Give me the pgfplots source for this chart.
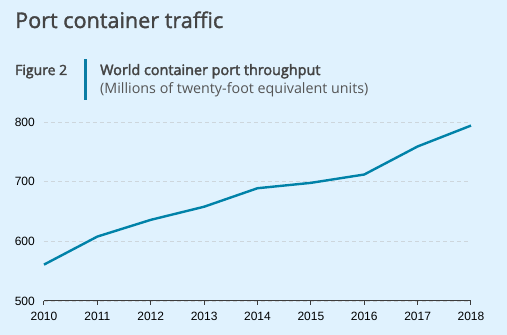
\documentclass[border=0pt]{standalone}
\usepackage{fontspec}
\setmainfont{Liberation Sans}
\newfontfamily\os{Open Sans}
\newfontfamily\ossb[FakeBold=2.5]{Open Sans}
\newfontfamily\ost[FakeBold=1.5]{Open Sans}
\usepackage{pgfplots}
\pgfplotsset{compat=1.18}
\definecolor{bg}{RGB}{224,242,254}
\definecolor{series}{RGB}{0,130,168}
\definecolor{bar}{RGB}{10,125,165}
\definecolor{titlegray}{RGB}{68,68,68}
\definecolor{subgray}{RGB}{85,85,85}
\definecolor{gridc}{RGB}{205,214,220}
\definecolor{axisc}{RGB}{60,60,60}
\begin{document}
\begin{tikzpicture}[x=1pt,y=1pt]
\fill[bg] (0,0) rectangle (507,335);
\node[anchor=base west, inner sep=0, text=titlegray, font=\ost\fontsize{21.6}{26}\selectfont] at (15,307) {Port container traffic};
\node[anchor=base west, inner sep=0, text=titlegray, font=\ossb\fontsize{14}{16}\selectfont] at (15,260) {Figure 2};
\fill[bar] (83.5,235) rectangle (86.5,276);
\node[anchor=base west, inner sep=0, text=titlegray, font=\ossb\fontsize{14.4}{16}\selectfont] at (100,260) {World container port throughput};
\node[anchor=base west, inner sep=0, text=subgray, font=\os\fontsize{14.3}{16}\selectfont] at (100,241.5) {(Millions of twenty-foot equivalent units)};
\begin{axis}[
  at={(44pt,34pt)}, anchor=south west, scale only axis,
  width=427pt, height=179pt,
  xmin=2010, xmax=2018, ymin=500, ymax=800,
  xtick={2010,2011,...,2018}, ytick={500,600,700,800},
  axis x line*=bottom, axis y line*=left,
  y axis line style={draw=none},
  x axis line style={draw=axisc, line width=1pt, -},
  ytick style={draw=none},
  xtick style={draw=axisc, line width=1pt},
  xtick align=outside, major tick length=4pt,
  ymajorgrids, grid style={draw=gridc, line width=0.8pt, dash pattern=on 4pt off 3pt},
  /pgf/number format/assume math mode=true,
  /pgf/number format/1000 sep={},
  tick label style={font=\fontsize{12}{14}\selectfont, text=black},
  xticklabel style={inner sep=0pt, yshift=-6.5pt},
  yticklabel style={anchor=east, inner sep=0pt, xshift=-9pt},
  clip=false,
]
\addplot[series, line width=2.4pt, line join=round] coordinates {
(2010,561) (2011,608) (2012,636) (2013,658) (2014,689) (2015,698) (2016,712) (2017,759) (2018,794)
};
\end{axis}
\end{tikzpicture}
\end{document}
